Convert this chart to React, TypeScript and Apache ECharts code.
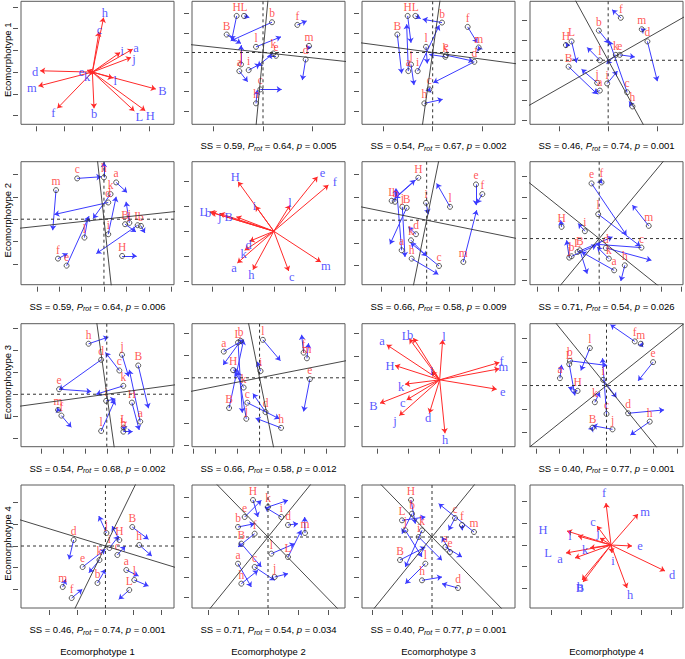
import React, { useEffect, useRef } from 'react';
import * as echarts from 'echarts';

type P = [number, number];

// ---------- Row 1 ----------
const p11Names = ['h','c','i','a','j','d','m','e','k','l','B','f','b','L','H'];
const p11Tips: P[] = [[0.34,1.64],[0.20,1.21],[0.84,0.59],[1.22,0.69],[1.17,0.44],[-1.58,0.04],[-1.63,-0.42],[-0.16,0.06],[-0.08,-0.08],[0.62,-0.18],[1.92,-0.51],[-1.06,-1.09],[0.05,-1.09],[1.27,-1.17],[1.60,-1.16]];
const p11Text: P[] = [[0.38,1.78],[0.22,1.28],[0.90,0.63],[1.32,0.74],[1.26,0.39],[-1.73,0],[-1.83,-0.48],[-0.33,0.01],[-0.16,-0.16],[0.69,-0.27],[2.12,-0.57],[-1.18,-1.24],[0.05,-1.27],[1.42,-1.34],[1.75,-1.31]];
const p11X = [-2.16, 2.47]; const p11Y = [-1.57, 2.13];
const p11XT = [-1.71,-0.855,0,0.855,1.71]; const p11YT = [-1.31,-0.655,0,0.655,1.31,1.965];

const p12Names = ['H','L','b','B','f','m','d','l','k','e','a','j','i','c','h'];
const p12Pts: P[] = [[-0.79,1.10],[-0.57,1.10],[0.27,0.91],[-1.09,0.54],[1.03,0.83],[1.38,0.20],[1.28,-0.21],[-0.21,0.17],[0.31,-0.03],[0.39,-0.10],[-0.71,-0.56],[-0.66,-0.36],[-0.43,-0.53],[-0.08,-1.11],[-0.21,-1.53]];
const p12Ends: P[] = [[-0.94,0.37],[-0.41,1.05],[-0.97,0.35],[-0.66,0.27],[1.31,0.95],[1.33,0.07],[1.18,-0.83],[0.54,0.47],[-0.17,-0.41],[0.13,-0.11],[-0.46,-0.88],[-0.66,0.22],[-0.09,-0.35],[0.56,-1.11],[-0.17,-1.13]];
const p12Rot: P[] = [[4.59,-0.50],[-0.35,-3.70]];
const p12X = [-2.13, 2.46]; const p12Y = [-2.16, 1.54];
const p12XT = [-1.49,0,1.49]; const p12YT = [-1.77,-1.18,-0.59,0,0.59,1.18];

const p13Names = ['H','L','b','B','a','j','f','m','l','i','k','d','e','c','h'];
const p13Pts: P[] = [[-0.75,1.10],[-0.52,1.10],[0.28,0.90],[-1.06,0.54],[-0.73,-0.56],[-0.65,-0.36],[1.05,0.77],[1.38,0.15],[-0.20,0.17],[-0.45,-0.56],[0.38,-0.13],[1.25,-0.28],[0.40,-0.08],[-0.10,-1.11],[-0.25,-1.53]];
const p13Ends: P[] = [[-0.65,0.29],[-0.36,1.02],[-0.30,1.00],[-0.93,-0.63],[-0.78,0.85],[-0.56,-0.98],[1.34,0.29],[1.36,0.19],[-0.16,-0.33],[0.20,0.82],[-0.10,-0.06],[0.02,-0.91],[1.22,-0.26],[-0.08,-1.05],[0.30,-1.41]];
const p13Rot: P[] = [[4.59,-0.62],[-0.52,-3.70]];
const p13X = [-2.12, 2.47]; const p13Y = [-2.16, 1.54];
const p13XT = [-1.48,0,1.48]; const p13YT = [-1.77,-1.18,-0.59,0,0.59,1.18];

const p14Names = ['f','m','b','H','L','l','k','e','d','B','j','a','i','c','h'];
const p14Pts: P[] = [[0.38,1.26],[1.01,0.92],[-0.28,0.88],[-1.27,0.45],[-1.10,0.56],[-0.25,0],[0.23,0.16],[0.35,0.16],[1.18,0.56],[-1.19,-0.19],[-0.33,-0.67],[-0.25,-0.90],[-0.03,-0.69],[0.57,-0.95],[0.73,-1.37]];
const p14Ends: P[] = [[0.12,1.50],[0.98,0.94],[0.03,0.50],[-1.15,0.46],[-0.95,-0.07],[-0.63,0.38],[-0.05,-0.10],[0.80,0.10],[1.48,-0.62],[-0.33,-1.00],[-0.80,-0.27],[-0.45,-0.97],[0.28,-0.32],[0.03,0.58],[0.63,-1.22]];
const p14Rot: P[] = [[2.05,-3.70],[4.60,2.59]];
const p14X = [-2.35, 2.25]; const p14Y = [-1.90, 1.75];
const p14XT = [-1.475,0,1.475]; const p14YT = [-1.77,-1.18,-0.59,0,0.59,1.18];

// ---------- Row 2 ----------
const p21Names = ['c','h','a','m','k','d','B','j','L','b','l','i','H','f','e'];
const p21Pts: P[] = [[-0.81,1.22],[0,1.25],[0.37,1.10],[-1.45,0.87],[0.20,0.75],[0.13,0.50],[0.64,-0.15],[0.77,-0.11],[1.02,-0.18],[1.12,-0.20],[-0.59,-0.55],[0.13,-0.45],[0.55,-1.10],[-1.39,-1.18],[-1.13,-1.39]];
const p21Ends: P[] = [[-0.08,1.27],[0,1.70],[0.70,0.80],[-1.55,-0.33],[-0.33,0.02],[-1.50,0.14],[0.97,-0.38],[0.67,0.52],[-0.23,-1.03],[1.24,-0.41],[-0.48,0.07],[0.37,0.67],[0.99,-1.10],[-1.10,-1.03],[-0.45,0.09]];
const p21Rot: P[] = [[4.63,0.49],[0.41,-3.68]];
const p21X = [-2.51, 2.12]; const p21Y = [-1.96, 1.72];
const p21XT = [-2.03,-1.36,-0.68,0,0.68,1.36,2.03]; const p21YT = [-1.34,-0.67,0,0.67,1.34];

const p22Names = ['H','e','f','i','l','L','b','j','B','d','k','a','h','c','m'];
const p22Tips: P[] = [[-1.08,1.48],[1.32,1.63],[1.65,1.38],[-0.55,0.75],[0.49,0.78],[-1.93,0.58],[-1.88,0.56],[-1.63,0.53],[-1.13,0.43],[-0.73,-0.30],[-0.88,-0.57],[-1.10,-0.95],[-0.63,-1.15],[0.45,-1.19],[1.42,-0.92]];
const p22Text: P[] = [[-1.16,1.63],[1.47,1.75],[1.84,1.46],[-0.58,0.75],[0.49,0.83],[-2.13,0.58],[-1.98,0.56],[-1.63,0.43],[-1.36,0.43],[-0.76,-0.40],[-0.91,-0.69],[-1.20,-1.10],[-0.68,-1.32],[0.54,-1.37],[1.57,-1.05]];
const p22X = [-2.47, 2.15]; const p22Y = [-1.60, 2.08];
const p22XT = [-1.87,-0.935,0,0.935,1.87]; const p22YT = [-1.5,-0.75,0,0.75,1.5];

const p23Names = ['H','L','b','j','B','i','l','e','f','d','k','a','h','c','m'];
const p23Pts: P[] = [[-0.25,1.27],[-1.05,0.58],[-0.95,0.55],[-0.73,0.40],[-0.60,0.37],[-0.02,0.52],[0.70,0.40],[1.48,1.07],[1.67,0.78],[-0.32,-0.42],[-0.47,-0.60],[-0.75,-0.90],[-0.45,-1.15],[0.37,-1.37],[1.10,-1.25]];
const p23Ends: P[] = [[-0.95,0.65],[-0.35,1.20],[-0.92,0.95],[-0.65,-1.10],[-1.10,-0.72],[0.05,0.18],[0.30,1.10],[1.48,0.45],[1.50,0.50],[-0.55,-0.20],[0,-1.08],[-0.90,0.92],[0.35,-1.62],[-0.48,-0.68],[1.50,0.30]];
const p23Rot: P[] = [[4.59,-0.93],[-0.75,-3.68]];
const p23X = [-1.94, 2.65]; const p23Y = [-1.93, 1.75];
const p23XT = [-1.36,-0.68,0,0.68,1.36,2.04]; const p23YT = [-1.36,-0.68,0,0.68,1.36];

const p24Names = ['e','f','l','c','m','H','i','B','L','j','b','d','k','a','h'];
const p24Pts: P[] = [[-0.23,1.65],[0.07,1.68],[-0.03,0.73],[1.27,-0.27],[1.49,0.38],[-1.13,0.35],[-0.43,0.22],[-0.58,-0.35],[-0.65,-0.40],[-0.90,-0.57],[-0.83,-0.53],[0.20,-0.28],[0.29,-0.60],[0.45,-0.95],[0.77,-0.80]];
const p24Ends: P[] = [[0.82,0.10],[0.10,1.65],[1.24,-0.23],[-0.10,-0.17],[1.00,1.00],[-1.16,0.55],[-0.63,0.45],[-0.36,-1.05],[0.40,0.05],[-0.98,-0.05],[-0.08,-0.20],[1.57,-0.65],[-0.06,-0.25],[-0.53,-0.40],[0.65,-1.27]];
const p24Rot: P[] = [[3.85,-3.06],[-3.07,-3.68]];
const p24X = [-2.08, 2.52]; const p24Y = [-1.38, 2.30];
const p24XT = [-1.86,-1.24,-0.62,0,0.62,1.24,1.86,2.48]; const p24YT = [-1.24,-0.62,0,0.62,1.24,1.86];

// ---------- Row 3 ----------
const p31Names = ['h','d','j','B','c','k','e','i','H','a','m','f','l','L','b'];
const p31Pts: P[] = [[-0.55,1.51],[-0.17,1.03],[0.46,1.18],[0.95,0.86],[0.38,0.71],[0.50,0.25],[-1.44,0.15],[-0.02,-0.20],[0.76,-0.25],[1.01,-0.82],[-1.47,-0.47],[-1.37,-0.64],[-0.17,-1.10],[0.51,-1.00],[0.50,-1.12]];
const p31Ends: P[] = [[0.05,1.71],[-1.44,0.13],[0.66,0.53],[1.26,-0.42],[-0.04,1.25],[-0.32,0],[-0.47,0.08],[0.26,-0.14],[0.98,-1.07],[0.68,0.73],[-1.49,-0.40],[-1.07,-0.99],[0.25,-0.17],[0.45,-0.97],[0.78,-1.12]];
const p31Rot: P[] = [[4.62,0.63],[0.52,-3.68]];
const p31X = [-2.59, 2.03]; const p31Y = [-1.57, 2.11];
const p31XT = [-1.98,-1.32,-0.66,0,0.66,1.32,1.98]; const p31YT = [-1.32,-0.66,0,0.66,1.32,1.98];

const p32Names = ['a','b','L','l','H','i','k','c','B','j','d','h','f','m','e'];
const p32Pts: P[] = [[-1.08,0.78],[-0.57,1.10],[-0.65,1.05],[0.10,1.13],[-0.80,0.23],[0.03,0.20],[-0.48,-0.29],[-0.37,-0.74],[-0.92,-0.90],[-0.40,-1.22],[0.18,-1.02],[0.65,-1.49],[1.33,0.75],[1.43,0.58],[1.52,-0.04]];
const p32Ends: P[] = [[-0.48,1.13],[-1.10,0.38],[-0.52,-1.04],[0.63,0.51],[-0.63,0.20],[-0.07,0.48],[-0.75,0.18],[0.60,-1.22],[-0.48,1.13],[-0.65,0.20],[-0.20,-0.47],[-0.12,-1.20],[1.27,1.28],[1.48,1.03],[1.33,-1.00]];
const p32Rot: P[] = [[4.62,0.90],[0.75,-3.66]];
const p32X = [-2.04, 2.58]; const p32Y = [-2.05, 1.61];
const p32XT = [-2.01,-1.34,-0.67,0,0.67,1.34,2.01]; const p32YT = [-2.01,-1.34,-0.67,0,0.67,1.34];

const p33Names = ['a','L','b','l','i','H','f','m','e','k','c','B','j','d','h'];
const p33Tips: P[] = [[-1.59,1.05],[-0.91,1.23],[-0.79,1.25],[0.09,1.20],[-0.24,0.25],[-1.34,0.43],[1.79,0.52],[1.79,0.33],[1.71,-0.28],[-1.04,-0.13],[-0.99,-0.60],[-1.79,-0.70],[-1.21,-1.07],[-0.31,-1.00],[0.16,-1.60]];
const p33Text: P[] = [[-1.73,1.15],[-1.02,1.30],[-0.89,1.33],[0.13,1.27],[-0.24,0.27],[-1.49,0.42],[1.86,0.57],[1.91,0.37],[1.89,-0.35],[-1.16,-0.20],[-1.11,-0.68],[-1.99,-0.78],[-1.34,-1.23],[-0.35,-1.15],[0.16,-1.80]];
const p33X = [-2.33, 2.26]; const p33Y = [-2.00, 1.68];
const p33XT = [-1.87,-0.935,0,0.935,1.87]; const p33YT = [-1.39,-0.695,0,0.695,1.39];

const p34Names = ['l','f','m','e','b','L','a','H','i','k','c','d','h','B','j'];
const p34Pts: P[] = [[-0.50,1.12],[0.85,1.32],[1.03,1.25],[1.40,0.70],[-1.10,0.74],[-1.12,0.64],[-1.40,0.22],[-0.87,-0.16],[-0.10,0.17],[-0.35,-0.50],[0,-0.85],[0.65,-0.83],[1.30,-1.08],[-0.42,-1.26],[0.18,-1.31]];
const p34Ends: P[] = [[-0.77,0.45],[0.12,1.82],[1.10,1.15],[0.95,0.14],[0.02,0.60],[-0.95,-0.30],[-1.35,0.62],[-1.15,-0.05],[0.30,-0.36],[-0.20,-0.20],[-0.12,0.82],[1.73,-0.73],[0.72,-1.48],[-0.40,-1.23],[-0.42,-1.20]];
const p34Rot: P[] = [[4.65,3.70],[3.00,-3.68]];
const p34X = [-2.30, 2.30]; const p34Y = [-1.83, 1.85];
const p34XT = [-2.115,-1.41,-0.705,0,0.705,1.41,2.115]; const p34YT = [-1.40,-0.70,0,0.70,1.40];

// ---------- Row 4 ----------
const p41Names = ['d','j','B','e','c','m','a','b','l','f','i','h','H','k','L'];
const p41Pts: P[] = [[-0.96,0.18],[0.03,0.39],[0.81,0.57],[-0.69,-0.63],[0.36,-0.27],[-1.29,-1.23],[0.63,-0.72],[-0.24,-1.11],[0.87,-1.02],[-1.02,-1.56],[0.12,-0.06],[1.02,0.03],[0.42,0.18],[-0.18,-0.42],[0.72,-1.32]];
const p41Ends: P[] = [[-1.1,-0.4],[-0.2,0.9],[1.3,0.2],[0,-0.1],[0.6,0],[-1.2,-1.0],[1.0,-0.9],[0,-0.7],[1.3,-1.2],[-0.7,-1.3],[0.4,0.3],[1.4,-0.3],[0.2,0.6],[-0.5,-0.8],[0.4,-1.6]];
const p41Rot: P[] = [[4.6,-1.4],[1.8,3.66]];
const p41X = [-2.55, 2.07]; const p41Y = [-1.86, 1.83];
const p41XT = [-1.7,-0.85,0,0.85,1.7]; const p41YT = [-1.3,-0.65,0,0.65,1.3];

const p42Names = ['H','e','b','B','d','a','l','c','m','h','k','i','j','f','L'];
const p42Pts: P[] = [[-0.45,1.11],[-0.7,0.6],[-0.9,0.3],[-0.8,-0.2],[0.6,0.36],[-0.9,-0.8],[0.1,-0.5],[-0.4,-0.9],[1.11,0.12],[-0.8,-1.4],[0.0,0.9],[0.4,0.6],[0.2,-1.2],[-0.4,0.1],[0.6,-0.6]];
const p42Ends: P[] = [[-0.3,0.6],[-0.2,1.1],[-0.4,0.4],[-0.2,-0.9],[0.9,0.4],[-0.5,-1.5],[0.8,-0.2],[0.2,-1.3],[1.1,0.6],[-0.3,-1.0],[0.6,1.1],[-0.1,0.9],[0.6,-1.1],[-0.9,-0.3],[1.0,0.2]];
const p42Rot: P[] = [[3.6,-3.7],[3.0,3.7]];
const p42X = [-2.28, 2.31]; const p42Y = [-2.13, 1.56];
const p42XT = [-1.8,-0.9,0,0.9,1.8]; const p42YT = [-1.8,-1.2,-0.6,0,0.6,1.2];

const p43Names = ['H','b','L','c','f','m','j','i','k','B','d','h','a','e','l'];
const p43Pts: P[] = [[-0.63,1.11],[-0.6,0.7],[-0.9,0.5],[0.69,0.57],[0.9,0.36],[1.26,0.15],[-0.8,0.2],[-0.4,0.0],[-0.3,0.2],[-0.96,-0.69],[0.78,-1.53],[-0.3,-1.3],[0.4,-0.3],[0.54,-0.45],[-0.2,-0.8]];
const p43Ends: P[] = [[-0.5,0.4],[-0.9,0.1],[-0.2,0.6],[0.5,0.2],[0.9,0.2],[0.2,1.0],[-0.3,-0.6],[0.3,-0.7],[-0.8,-0.9],[-0.2,-0.3],[0.3,-1.4],[0.3,-1.2],[0.9,-0.6],[0.3,0.0],[-0.8,-1.4]];
const p43Rot: P[] = [[3.6,-3.7],[3.0,3.7]];
const p43X = [-2.10, 2.49]; const p43Y = [-2.13, 1.56];
const p43XT = [-1.8,-0.9,0,0.9,1.8]; const p43YT = [-1.8,-1.2,-0.6,0,0.6,1.2];

const p44Names = ['f','m','H','l','c','e','L','a','i','d','h','B','b','j','k'];
const p44Tips: P[] = [[-0.15,1.26],[0.81,0.93],[-1.32,0.42],[-0.99,0.27],[-0.42,0.57],[0.63,-0.03],[-1.35,-0.24],[-1.08,-0.39],[0.03,-0.24],[1.62,-0.78],[0.48,-1.29],[-0.84,-1.11],[-0.87,-1.05],[-0.33,0.21],[-0.63,-0.09]];
const p44Text: P[] = [[-0.21,1.56],[1.02,0.99],[-2.04,0.45],[-1.23,0.27],[-0.54,0.69],[0.87,-0.03],[-1.89,-0.24],[-1.53,-0.42],[0.06,-0.48],[1.83,-0.90],[0.57,-1.50],[-0.93,-1.29],[-0.93,-1.26],[-0.39,0.36],[-0.78,-0.15]];
const p44X = [-2.43, 2.16]; const p44Y = [-1.89, 1.80];
const p44XT = [-1.8,-0.9,0,0.9,1.8]; const p44YT = [-1.3,-0.65,0,0.65,1.3];

// ---------- Captions ----------
const capSS = [[null,'0.59','0.54','0.46'],['0.59',null,'0.66','0.71'],['0.54','0.66',null,'0.40'],['0.46','0.71','0.40',null]];
const capProt = [[null,'0.64','0.67','0.74'],['0.64',null,'0.58','0.54'],['0.68','0.58',null,'0.77'],['0.74','0.54','0.77',null]];
const capP = [[null,'0.005','0.002','0.001'],['0.006',null,'0.009','0.026'],['0.002','0.012',null,'0.001'],['0.001','0.034','0.001',null]];
const groupNames = ['Ecomorphotype 1','Ecomorphotype 2','Ecomorphotype 3','Ecomorphotype 4'];

type Panel = { r: number; c: number; names: string[]; a: P[]; b: P[]; rot?: P[]; x: number[]; y: number[]; xt: number[]; yt: number[] };
const panels: Panel[] = [
  { r:0,c:0,names:p11Names,a:p11Tips,b:p11Text,x:p11X,y:p11Y,xt:p11XT,yt:p11YT },
  { r:0,c:1,names:p12Names,a:p12Pts,b:p12Ends,rot:p12Rot,x:p12X,y:p12Y,xt:p12XT,yt:p12YT },
  { r:0,c:2,names:p13Names,a:p13Pts,b:p13Ends,rot:p13Rot,x:p13X,y:p13Y,xt:p13XT,yt:p13YT },
  { r:0,c:3,names:p14Names,a:p14Pts,b:p14Ends,rot:p14Rot,x:p14X,y:p14Y,xt:p14XT,yt:p14YT },
  { r:1,c:0,names:p21Names,a:p21Pts,b:p21Ends,rot:p21Rot,x:p21X,y:p21Y,xt:p21XT,yt:p21YT },
  { r:1,c:1,names:p22Names,a:p22Tips,b:p22Text,x:p22X,y:p22Y,xt:p22XT,yt:p22YT },
  { r:1,c:2,names:p23Names,a:p23Pts,b:p23Ends,rot:p23Rot,x:p23X,y:p23Y,xt:p23XT,yt:p23YT },
  { r:1,c:3,names:p24Names,a:p24Pts,b:p24Ends,rot:p24Rot,x:p24X,y:p24Y,xt:p24XT,yt:p24YT },
  { r:2,c:0,names:p31Names,a:p31Pts,b:p31Ends,rot:p31Rot,x:p31X,y:p31Y,xt:p31XT,yt:p31YT },
  { r:2,c:1,names:p32Names,a:p32Pts,b:p32Ends,rot:p32Rot,x:p32X,y:p32Y,xt:p32XT,yt:p32YT },
  { r:2,c:2,names:p33Names,a:p33Tips,b:p33Text,x:p33X,y:p33Y,xt:p33XT,yt:p33YT },
  { r:2,c:3,names:p34Names,a:p34Pts,b:p34Ends,rot:p34Rot,x:p34X,y:p34Y,xt:p34XT,yt:p34YT },
  { r:3,c:0,names:p41Names,a:p41Pts,b:p41Ends,rot:p41Rot,x:p41X,y:p41Y,xt:p41XT,yt:p41YT },
  { r:3,c:1,names:p42Names,a:p42Pts,b:p42Ends,rot:p42Rot,x:p42X,y:p42Y,xt:p42XT,yt:p42YT },
  { r:3,c:2,names:p43Names,a:p43Pts,b:p43Ends,rot:p43Rot,x:p43X,y:p43Y,xt:p43XT,yt:p43YT },
  { r:3,c:3,names:p44Names,a:p44Tips,b:p44Text,x:p44X,y:p44Y,xt:p44XT,yt:p44YT },
];

const COL_L = [21, 192, 362, 530];
const ROW_T = [1.3, 161.7, 323.7, 485];
const PW = 153, PH = 123;
const RED = '#ff2a2a', BLUE = '#2a2aff', ABLUE = '#3b3bff';
const SERIF = 'Liberation Serif', SANS = 'Liberation Sans';

function buildOption() {
  const grid: any[] = [], xAxis: any[] = [], yAxis: any[] = [], series: any[] = [], graphic: any[] = [];
  panels.forEach((p, gi) => {
    grid.push({ left: COL_L[p.c], top: ROW_T[p.r], width: PW, height: PH, show: true, borderColor: '#5a5a5a', borderWidth: 1, backgroundColor: 'transparent' });
    const tick = (vals: number[]) => ({ show: true, inside: false, length: 5, customValues: vals, lineStyle: { color: '#555', width: 1 } });
    xAxis.push({ gridIndex: gi, type: 'value', position: 'bottom', min: p.x[0], max: p.x[1], offset: 2, axisLine: { show: false, onZero: false }, axisTick: tick(p.xt), axisLabel: { show: false }, splitLine: { show: false } });
    yAxis.push({ gridIndex: gi, type: 'value', position: 'left', min: p.y[0], max: p.y[1], offset: 3, axisLine: { show: false, onZero: false }, axisTick: tick(p.yt), axisLabel: { show: false }, splitLine: { show: false } });
    const ax = { xAxisIndex: gi, yAxisIndex: gi };
    if (!p.rot) {
      series.push({ type: 'lines', coordinateSystem: 'cartesian2d', ...ax, silent: true, symbol: ['none', 'arrow'], symbolSize: 5,
        lineStyle: { color: RED, width: 1, opacity: 1 }, data: p.a.map((t) => ({ coords: [[0, 0], t] })) });
      series.push({ type: 'scatter', ...ax, silent: true, symbolSize: 1, itemStyle: { color: 'rgba(0,0,0,0)' },
        label: { show: true, position: 'inside', formatter: '{b}', color: BLUE, fontFamily: SERIF, fontSize: 12.5 },
        data: p.b.map((t, i) => ({ name: p.names[i], value: t })) });
    } else {
      const dashed = { color: '#333', width: 1, type: [3, 3] };
      series.push({ type: 'line', ...ax, silent: true, symbol: 'none', lineStyle: dashed, data: [[p.x[0], 0], [p.x[1], 0]] });
      series.push({ type: 'line', ...ax, silent: true, symbol: 'none', lineStyle: dashed, data: [[0, p.y[0]], [0, p.y[1]]] });
      p.rot.forEach((v) => {
        series.push({ type: 'line', ...ax, silent: true, symbol: 'none', clip: true, lineStyle: { color: '#333', width: 0.9 },
          data: [[-3 * v[0], -3 * v[1]], [3 * v[0], 3 * v[1]]] });
      });
      series.push({ type: 'lines', coordinateSystem: 'cartesian2d', ...ax, silent: true, symbol: ['none', 'arrow'], symbolSize: 5,
        lineStyle: { color: ABLUE, width: 1, opacity: 1 }, data: p.a.map((s, i) => ({ coords: [s, p.b[i]] })) });
      series.push({ type: 'scatter', ...ax, silent: true, symbol: 'circle', symbolSize: 5,
        itemStyle: { color: 'rgba(255,255,255,0)', borderColor: '#333', borderWidth: 1 },
        label: { show: true, position: 'top', distance: 0, formatter: '{b}', color: RED, fontFamily: SERIF, fontSize: 11.5 },
        data: p.a.map((s, i) => ({ name: p.names[i], value: s })) });
      const cx = COL_L[p.c] + PW / 2, cy = ROW_T[p.r] + PH + 21.5;
      graphic.push({ type: 'text', x: cx, y: cy, silent: true, style: {
        text: `{n|SS = ${capSS[p.r][p.c]}, }{i|P}{s|rot}{n| = ${capProt[p.r][p.c]}, }{i|p}{n| = ${capP[p.r][p.c]}}`,
        align: 'center', verticalAlign: 'middle', fill: '#000',
        rich: {
          n: { fontFamily: SANS, fontSize: 9.5, fill: '#000' },
          i: { fontFamily: SANS, fontSize: 9.5, fontStyle: 'italic', fill: '#000' },
          s: { fontFamily: SANS, fontSize: 7, fontStyle: 'italic', fill: '#000', padding: [5, 0, 0, 0] },
        } } });
    }
  });
  groupNames.forEach((g, i) => {
    graphic.push({ type: 'text', x: COL_L[i] + PW / 2, y: 651, silent: true, style: { text: g, align: 'center', verticalAlign: 'middle', fontFamily: SANS, fontSize: 9.5, fill: '#000' } });
    graphic.push({ type: 'text', x: 7, y: ROW_T[i] + PH / 2 - 3, rotation: Math.PI / 2, silent: true, style: { text: g, align: 'center', verticalAlign: 'middle', fontFamily: SANS, fontSize: 9.5, fill: '#000' } });
  });
  return { animation: false, backgroundColor: '#fff', grid, xAxis, yAxis, series, graphic };
}

export default function App() {
  const ref = useRef<HTMLDivElement>(null);
  useEffect(() => {
    if (!ref.current) return;
    const chart = echarts.init(ref.current, undefined, { renderer: 'svg' });
    chart.setOption(buildOption() as any);
    return () => chart.dispose();
  }, []);
  return <div ref={ref} style={{ position: 'fixed', left: 0, top: 0, width: 685, height: 659, background: '#fff' }} />;
}
